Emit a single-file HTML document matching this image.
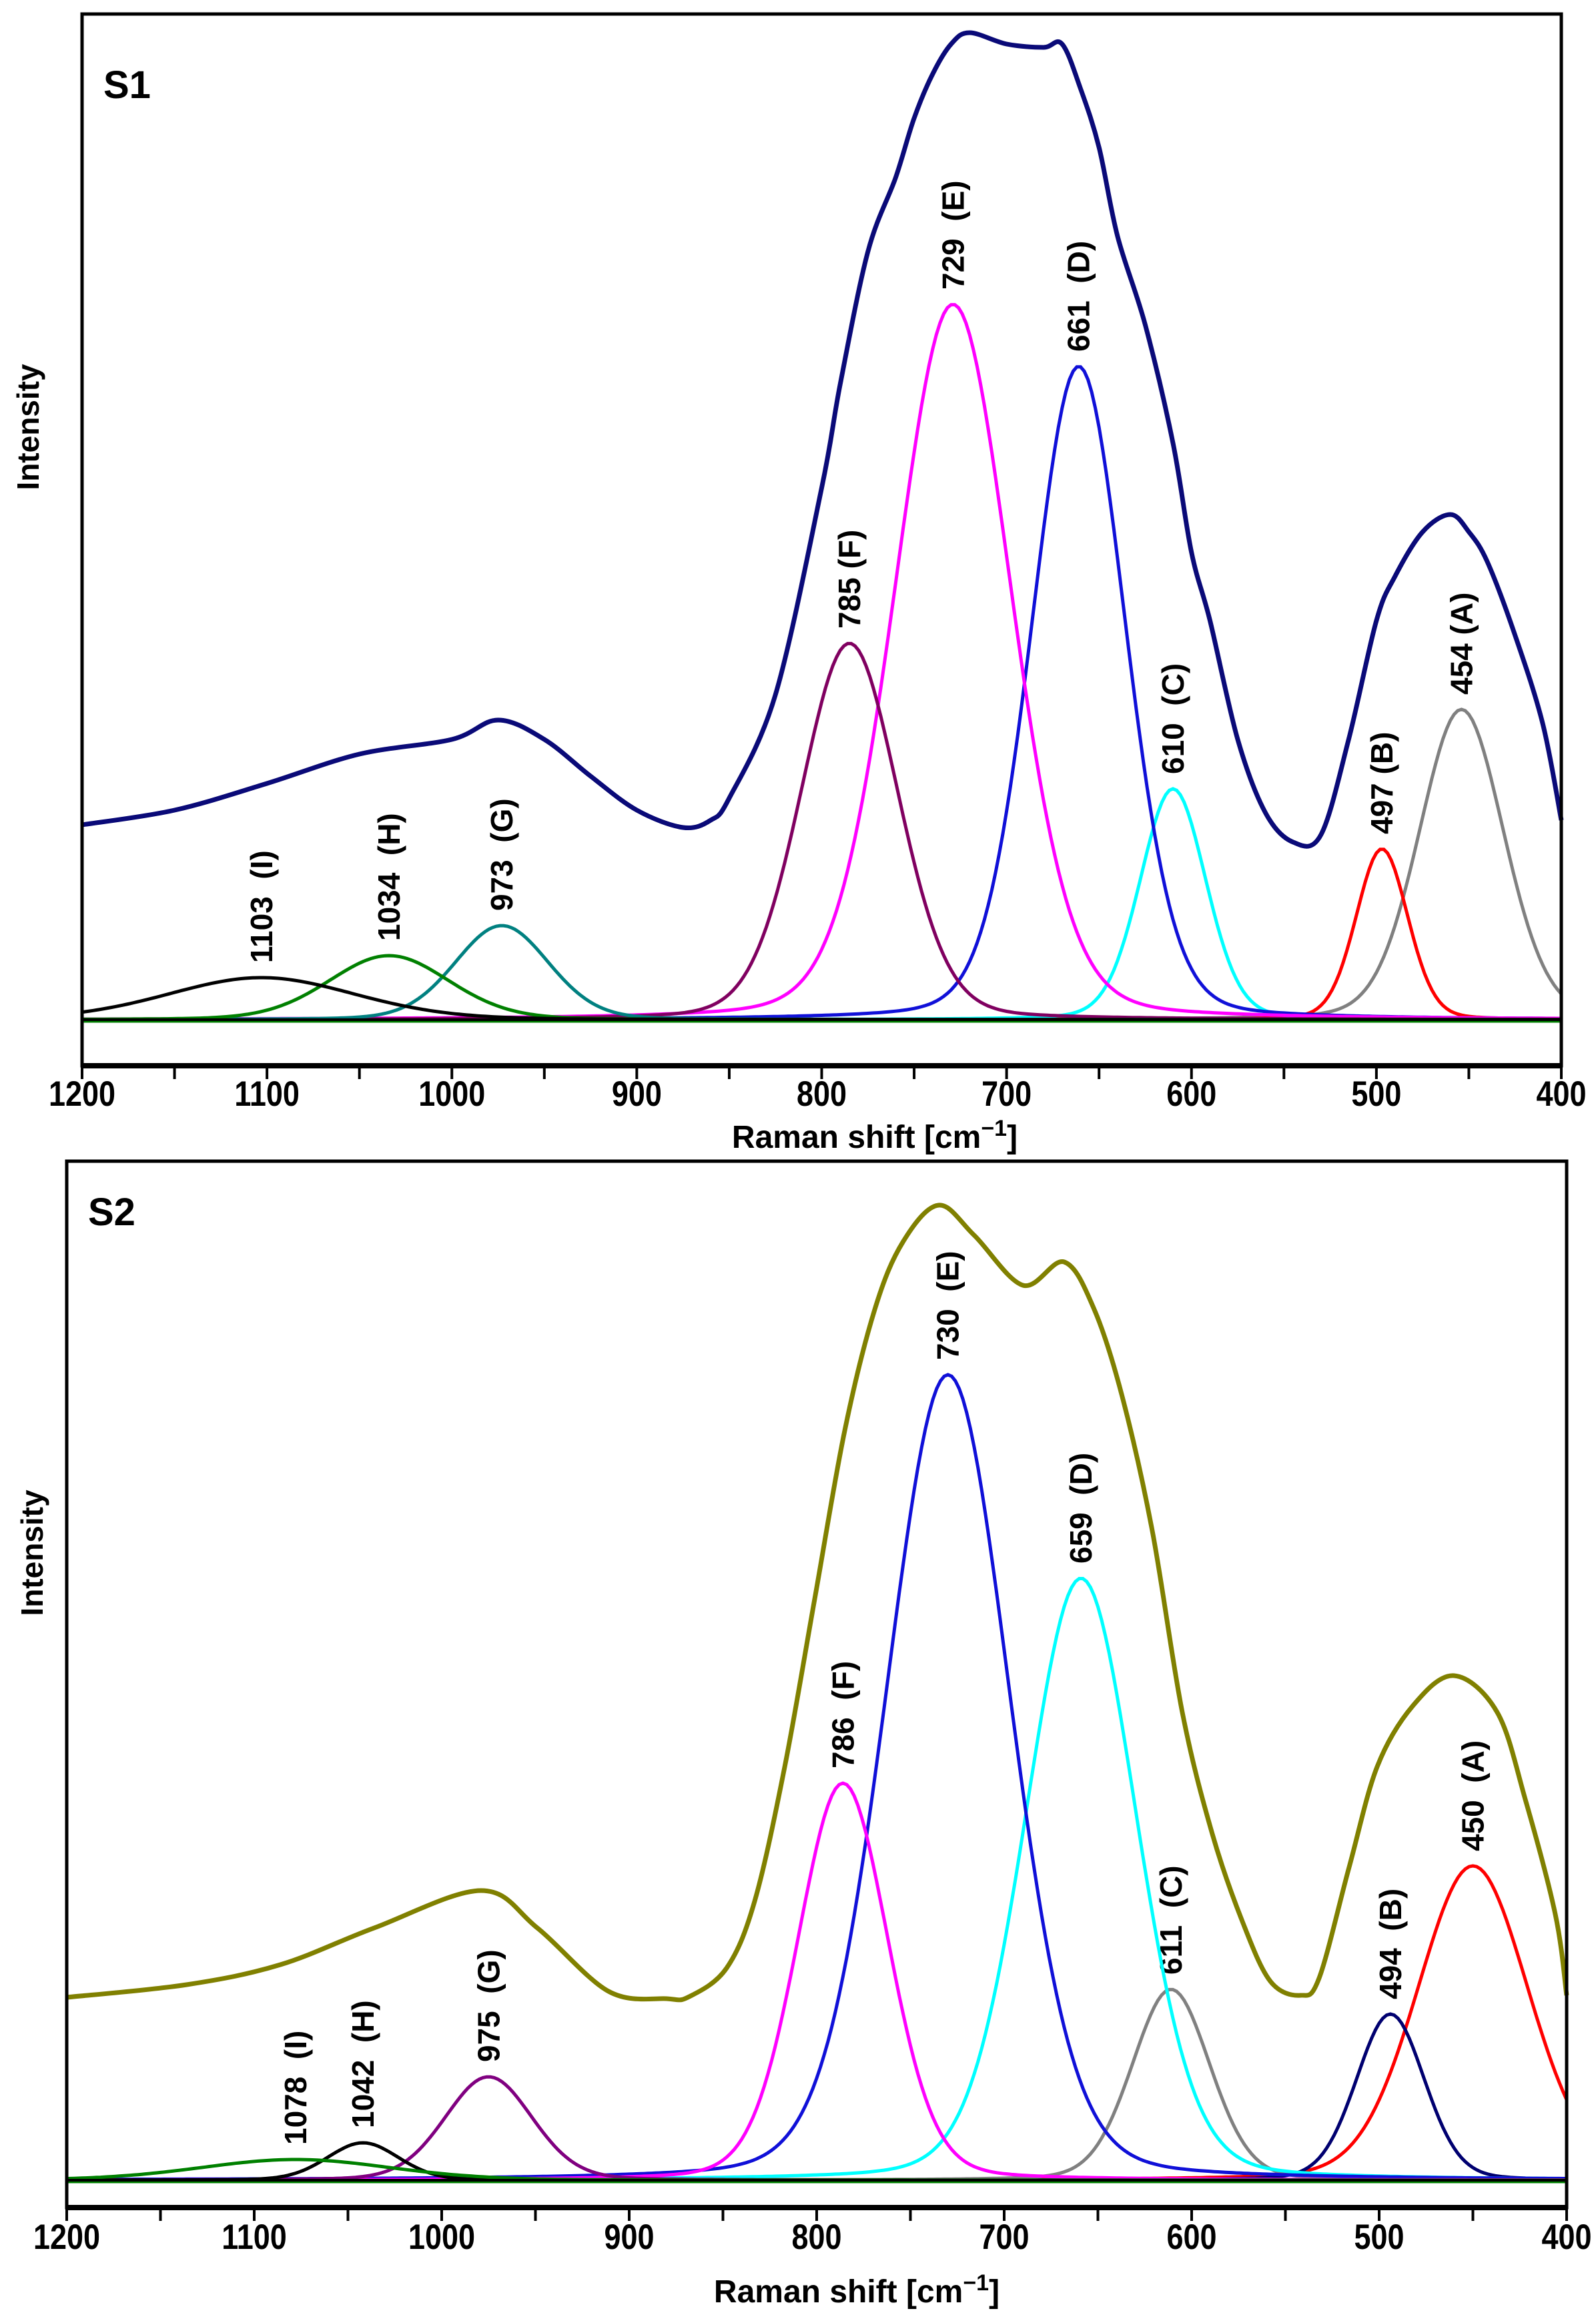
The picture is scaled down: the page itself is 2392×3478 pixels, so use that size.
<!DOCTYPE html>
<html><head><meta charset="utf-8"><style>
html,body{margin:0;padding:0;background:#fff;}
svg{display:block;}
text{font-family:"Liberation Sans",Arial,sans-serif;font-weight:bold;fill:#000;white-space:pre;}
</style></head><body>
<svg id="fig" width="2392" height="3478" viewBox="0 0 2392 3478" xmlns="http://www.w3.org/2000/svg"></svg>
<script>
// ---------- Panel S1 data ----------
const s1EnvX = [1200,1150,1100,1050,1000,975,950,925,900,875,860,850,825,800,790,775,760,750,740,730,720,700,680,670,660,650,640,625,610,600,590,575,560,545,530,515,500,490,475,460,450,440,425,410,400];
const s1EnvY = [292,314,354,398,420,449,420,365,314,288,299,332,487,797,952,1151,1262,1351,1417,1462,1479,1462,1457,1462,1395,1307,1174,1041,864,700,598,420,310,266,277,420,598,664,731,757,731,686,576,443,299];
const s1PeakLabels = ["454 (A)","497 (B)","610  (C)","661  (D)","729  (E)","785 (F)","973  (G)","1034  (H)","1103  (I)"];
const s1Centers = [454,497,610,661,729,785,973,1034,1103];
const s1Heights = [465,256,346,979,1072,564,141,96,63];
const s1Fwhm = [54,33,42,60,74,62,60,77,120];
const s1Colors = ["#808080","#ff0000","#00ffff","#1010d8","#ff00ff","#800060","#008080","#008000","#000000"];

// ---------- Panel S2 data ----------
const s2EnvX = [1200,1136,1086,1036,979,949,911,880,868,848,833,817,801,785,769,754,735,716,690,668,652,637,621,605,589,573,558,542,532,516,501,482,460,437,422,406,400];
const s2EnvY = [274,293,323,378,434,378,283,272,275,318,419,620,872,1124,1305,1406,1461,1416,1341,1376,1305,1174,973,701,519,388,298,277,303,469,620,711,756,701,570,398,277];
const s2PeakLabels = ["450  (A)","494  (B)","611  (C)","659  (D)","730  (E)","786  (F)","975  (G)","1042  (H)","1078  (I)"];
const s2Centers = [450,494,611,659,730,786,975,1042,1078];
const s2Heights = [471,249,286,902,1207,595,155,56,31];
const s2Fwhm = [70,43,49,70,78,57,55,45,120];
const s2Colors = ["#ff0000","#000070","#808080","#00ffff","#1010d8","#ff00ff","#800080","#000000","#008000"];

const xTicks = [1200,1100,1000,900,800,700,600,500,400];
const xMinor = [1150,1050,950,850,750,650,550,450];

const NS = "http://www.w3.org/2000/svg";
const svg = document.getElementById('fig');
function mk(tag, attrs, parent){
  const e = document.createElementNS(NS, tag);
  for (const k in attrs) e.setAttribute(k, attrs[k]);
  (parent||svg).appendChild(e);
  return e;
}
function smoothPath(pts){
  let d = 'M' + pts[0][0].toFixed(1) + ',' + pts[0][1].toFixed(1);
  for (let i = 0; i < pts.length - 1; i++) {
    const p0 = pts[Math.max(0, i - 1)], p1 = pts[i], p2 = pts[i + 1], p3 = pts[Math.min(pts.length - 1, i + 2)];
    const c1x = p1[0] + (p2[0] - p0[0]) / 6, c1y = p1[1] + (p2[1] - p0[1]) / 6;
    const c2x = p2[0] - (p3[0] - p1[0]) / 6, c2y = p2[1] - (p3[1] - p1[1]) / 6;
    d += 'C' + c1x.toFixed(1) + ',' + c1y.toFixed(1) + ' ' + c2x.toFixed(1) + ',' + c2y.toFixed(1) + ' ' + p2[0].toFixed(1) + ',' + p2[1].toFixed(1);
  }
  return d;
}

function drawPanel(p){
  const g = mk('g', {});
  
  
  const xS = v => p.left + (1200 - v) / 800 * (p.right - p.left);
  const yS = v => p.base - v;
  const eta = 0.15;

  p.centers.forEach((c, i) => {
    const sig = p.fwhm[i] / 2.3548, hw = p.fwhm[i] / 2;
    let d = '';
    for (let x = 1200; x >= 400; x -= 2) {
      const G = Math.exp(-0.5 * Math.pow((x - c) / sig, 2));
      const L = 1 / (1 + Math.pow((x - c) / hw, 2));
      const v = p.heights[i] * (eta * L + (1 - eta) * G);
      d += (d ? 'L' : 'M') + xS(x).toFixed(1) + ',' + yS(v).toFixed(1);
    }
    const path = mk('path', {d: d, fill: 'none', stroke: p.colors[i], 'stroke-width': 5}, g);
    
    
    const t = mk('text', {x: 0, y: 0, 'font-size': 46, transform: 'translate(' + (xS(c) + 16).toFixed(1) + ',' + (yS(p.heights[i]) - 22).toFixed(1) + ') rotate(-90)'}, g);
    t.textContent = p.labels[i];
    
    
  });
  const bl = mk('line', {x1: p.left, x2: p.right, y1: p.base + 3, y2: p.base + 3, stroke: '#008000', 'stroke-width': 3}, g);
  
  
  const bk = mk('line', {x1: p.left, x2: p.right, y1: p.base, y2: p.base, stroke: '#000', 'stroke-width': 4}, g);
  
  

  const pts = p.envX.map((x, i) => [xS(x), yS(p.envY[i])]);
  const env = mk('path', {d: smoothPath(pts), fill: 'none', stroke: p.envColor, 'stroke-width': 7, 'stroke-linejoin': 'round'}, g);
  
  

  const fr = mk('rect', {x: p.left, y: p.top, width: p.right - p.left, height: p.bottom - p.top, fill: 'none', stroke: '#000', 'stroke-width': 5}, g);
  
  
  mk('line', {x1: p.left, x2: p.right, y1: p.bottom, y2: p.bottom, stroke: '#000', 'stroke-width': 8}, g);

  xTicks.concat(xMinor).forEach(v => {
    const tk = mk('line', {x1: xS(v), x2: xS(v), y1: p.bottom, y2: p.bottom + 20, stroke: '#000', 'stroke-width': 4}, g);
    
    
  });
  xTicks.forEach(v => {
    const t = mk('text', {x: 0, y: 0, 'font-size': 50, 'text-anchor': 'middle', transform: 'translate(' + xS(v) + ',' + p.tickY + ') scale(0.9,1.05)'}, g);
    t.textContent = v;
    
    
  });
  const xt = mk('text', {x: p.titleX, y: p.titleY, 'font-size': 48, 'text-anchor': 'middle'}, g);
  xt.innerHTML = 'Raman shift [cm<tspan dy="-18" font-size="34">−1</tspan><tspan dy="18">]</tspan>';
  
  
  const yt = mk('text', {x: 0, y: 0, 'font-size': 46, 'text-anchor': 'middle', transform: 'translate(' + p.ylabX + ',' + p.ylabY + ') rotate(-90)'}, g);
  yt.textContent = 'Intensity';
  
  
  const pl = mk('text', {x: p.left + 32, y: p.top + 126 - (p.top > 100 ? 30 : 0), 'font-size': 58}, g);
  pl.textContent = p.title;
  
  
}

drawPanel({name: 'panel-s1', title: 'S1', left: 123, right: 2340, top: 21, bottom: 1597, base: 1528,
  envX: s1EnvX, envY: s1EnvY, envColor: '#0a0a78', centers: s1Centers, heights: s1Heights, fwhm: s1Fwhm,
  colors: s1Colors, labels: s1PeakLabels, tickY: 1657, titleX: 1311, titleY: 1720, ylabX: 58, ylabY: 640});
drawPanel({name: 'panel-s2', title: 'S2', left: 100, right: 2348, top: 1740, bottom: 3308, base: 3267,
  envX: s2EnvX, envY: s2EnvY, envColor: '#808000', centers: s2Centers, heights: s2Heights, fwhm: s2Fwhm,
  colors: s2Colors, labels: s2PeakLabels, tickY: 3370, titleX: 1284, titleY: 3450, ylabX: 64, ylabY: 2327});
</script>
</body></html>
